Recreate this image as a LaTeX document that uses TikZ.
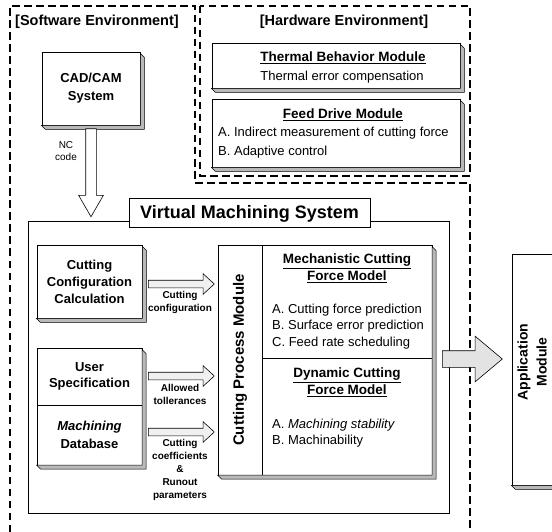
\documentclass[tikz,border=0pt]{standalone}
\usepackage{fontspec}
\setmainfont{Liberation Sans}
\usetikzlibrary{shapes.arrows,calc}
\tikzset{
  envdash/.style={dash pattern=on 7.5pt off 4.5pt, line width=1.1pt},
  box/.style={draw, line width=0.9pt, fill=white, inner sep=0pt},
  shadowfill/.style={fill=gray!55, draw=black, line width=0.5pt},
  hollow/.style={single arrow, draw, line width=0.6pt, fill=white},
  btxt/.style={font=\fontsize{13}{17}\selectfont, inner sep=0pt},
  bbold/.style={font=\bfseries\fontsize{13}{17}\selectfont, inner sep=0pt, align=center},
  small/.style={font=\bfseries\fontsize{10}{13}\selectfont, inner sep=0pt, align=center},
  envlabel/.style={font=\bfseries\fontsize{14.5}{16}\selectfont, inner sep=0pt},
}
\newcommand{\dropshadow}[1]{\filldraw[shadowfill] ($(#1.north east)+(0,2)$) -- ($(#1.north east)+(4,6)$) -- ($(#1.south east)+(4,4)$) -- ($(#1.south west)+(4,4)$) -- (#1.south west) -- (#1.south east) -- cycle;}
\begin{document}
\begin{tikzpicture}[x=1pt,y=-1pt]
\clip (0,0) rectangle (552,532);
\fill[white] (0,0) rectangle (552,532);
% environments
\draw[envdash] (10,532) -- (10,6) -- (195,6) -- (195,183) -- (470,183) -- (470,532);
\draw[envdash] (200,6) rectangle (470,176);
\node[envlabel, anchor=west] (swl) at (15,22) {[Software Environment]};
\node[envlabel] (hwl) at (344,22) {[Hardware Environment]};
% hardware modules
\node[box, minimum width=248, minimum height=45] (thermal) at (336,65.5) {};
\dropshadow{thermal}
\node[bbold] (thermalT) at (343,58) {\fontsize{13.5}{17}\selectfont\underline{Thermal Behavior Module}};
\node[btxt] (thermalA) at (342,77) {Thermal error compensation};
\node[box, minimum width=248, minimum height=68] (feed) at (336,133) {};
\dropshadow{feed}
\node[bbold] (feedT) at (343,115) {\fontsize{13.5}{17}\selectfont\underline{Feed Drive Module}};
\node[btxt, anchor=west] (feedA) at (218,133) {A. Indirect measurement of cutting force};
\node[btxt, anchor=west] (feedB) at (218,152) {B. Adaptive control};
% CAD/CAM
\node[box, minimum width=98, minimum height=73, font=\bfseries\fontsize{13}{18}\selectfont, align=center] (cadcam) at (91,88.5) {CAD/CAM\\System};
\dropshadow{cadcam}
\node[hollow, shape border rotate=270, inner sep=5pt, minimum height=88, single arrow head extend=7, single arrow tip angle=60, anchor=tail] (ncarrow) at ($(cadcam.south)+(0,3)$) {};
\node[font=\fontsize{10}{12}\selectfont, align=center, inner sep=0pt] (nclabel) at (66,151) {NC\\code};
% Virtual machining system
\node[draw, line width=1pt, minimum width=421, minimum height=291, inner sep=0pt] (vms) at (238.5,367.5) {};
\node[draw, line width=1pt, fill=white, minimum width=241, minimum height=29, inner sep=0pt, font=\bfseries\fontsize{18}{20}\selectfont] (vmst) at (249.5,213.5) {Virtual Machining System};
% left boxes
\node[box, minimum width=105, minimum height=73, font=\bfseries\fontsize{13}{17}\selectfont, align=center] (ccc) at (89.5,281.5) {Cutting\\Configuration\\Calculation};
\dropshadow{ccc}
\node[box, minimum width=105, minimum height=57, font=\bfseries\fontsize{13}{16}\selectfont, align=center] (us) at (89.5,376.5) {User\\Specification};
\node[box, minimum width=105, minimum height=60, font=\bfseries\fontsize{13}{18}\selectfont, align=center] (md) at (89.5,435) {\textit{Machining}\\Database};
\node[inner sep=0pt, minimum width=105, minimum height=117] (usmd) at (89.5,406.5) {};
\dropshadow{usmd}
% cutting process module and models
\node[box, minimum width=44, minimum height=230] (cpm) at (240,360) {};
\node[box, minimum width=170, minimum height=113] (mech) at (347,301.5) {};
\node[box, minimum width=170, minimum height=117] (dyn) at (347,416.5) {};
\node[inner sep=0pt, minimum width=214, minimum height=230] (cpmall) at (325,360) {};
\dropshadow{cpmall}
\node[rotate=90, font=\bfseries\fontsize{15}{17}\selectfont, inner sep=0pt] (cpmT) at (cpm) {Cutting Process Module};
\node[bbold] (mechT) at (347,268.5) {\fontsize{13.5}{17}\selectfont\underline{Mechanistic Cutting}\\\fontsize{13.5}{17}\selectfont\underline{Force Model}};
\node[btxt, anchor=west] (mechA) at (272,310) {A. Cutting force prediction};
\node[btxt, anchor=west] (mechB) at (272,326.5) {B. Surface error prediction};
\node[btxt, anchor=west] (mechC) at (272,343) {C. Feed rate scheduling};
\node[bbold] (dynT) at (347,382.5) {\fontsize{13.5}{17}\selectfont\underline{Dynamic Cutting}\\\fontsize{13.5}{17}\selectfont\underline{Force Model}};
\node[btxt, anchor=west] (dynA) at (272,425) {A. \textit{Machining stability}};
\node[btxt, anchor=west] (dynB) at (272,441) {B. Machinability};
% input arrows
\node[hollow, fill=gray!12, inner sep=3.5pt, minimum height=66, single arrow head extend=6.5, single arrow tip angle=85, anchor=tail] (a1) at (148,284) {};
\node[hollow, fill=gray!12, inner sep=3.5pt, minimum height=66, single arrow head extend=6.5, single arrow tip angle=85, anchor=tail] (a2) at (148,376) {};
\node[hollow, fill=gray!12, inner sep=3.5pt, minimum height=66, single arrow head extend=6.5, single arrow tip angle=85, anchor=tail] (a3) at (148,432) {};
\node[small, anchor=north] (l1) at (180,291) {Cutting\\configuration};
\node[small, anchor=north] (l2) at (180,384) {Allowed\\tollerances};
\node[small, anchor=north] (l3) at (180,439) {Cutting\\coefficients\\\&\\Runout\\parameters};
% application module
\node[box, minimum width=60, minimum height=231] (app) at (542,369.5) {};
\dropshadow{app}
\node[rotate=90, font=\bfseries\fontsize{14}{19}\selectfont, align=center, inner sep=0pt] (appT) at (532,362) {Application\\Module};
\node[hollow, fill=gray!22, inner sep=8pt, minimum height=60, single arrow head extend=14.5, single arrow tip angle=80, anchor=tail] (appArrow) at (442,359) {};
\end{tikzpicture}
\end{document}
